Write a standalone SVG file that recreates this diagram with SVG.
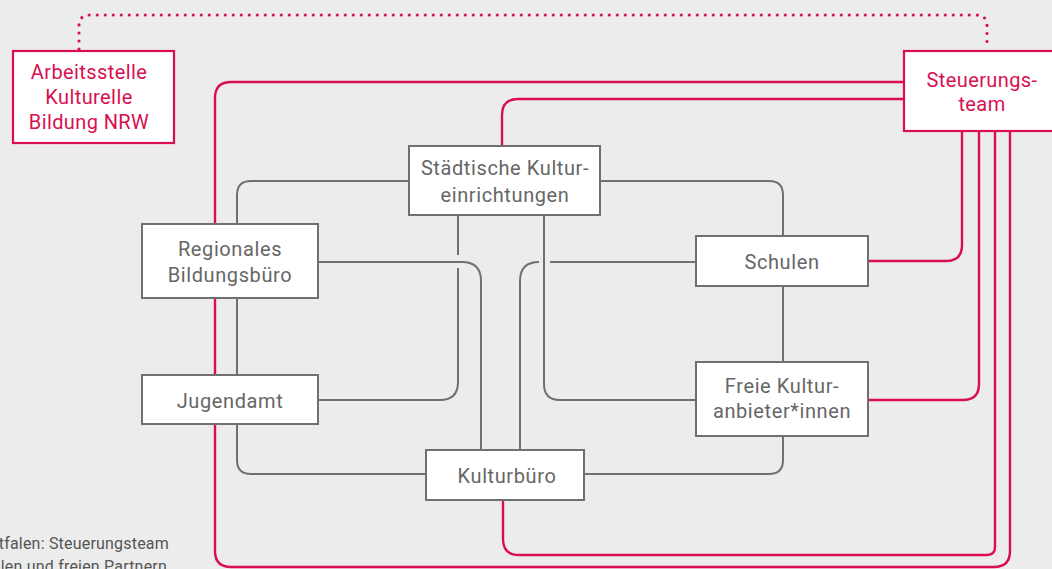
<svg xmlns="http://www.w3.org/2000/svg" width="1052" height="569" viewBox="0 0 1052 569">
<style>
.bg{fill:#ececec}
.g{fill:none;stroke:#707070;stroke-width:2}
.r{fill:none;stroke:#d90f50;stroke-width:2.4}
.dot{fill:none;stroke:#d90f50;stroke-width:3.2;stroke-linecap:round;stroke-dasharray:0 8}
.nb{fill:#fff;stroke:#707070;stroke-width:2}
.nr{fill:#fff;stroke:#d90f50;stroke-width:2.2}
.t{font-family:Roboto,"Noto Sans",sans-serif;font-size:20px;letter-spacing:0.6px;fill:#666;text-anchor:middle}
.tr{font-family:Roboto,"Noto Sans",sans-serif;font-size:20px;letter-spacing:0.4px;fill:#d90f50;text-anchor:middle}
.cap{font-family:Roboto,"Noto Sans",sans-serif;font-size:16px;letter-spacing:0.2px;fill:#555;text-anchor:end}
</style>
<rect class="bg" width="1052" height="569"/>
<g id="connectors">
<path class="dot" d="M79,49 V26 Q79,15 90,15 H976 Q987,15 987,26 V48"/>
<path class="r" d="M903,82 H231 Q215,82 215,98 V551 Q215,567 231,567 H994 Q1010,567 1010,551 V131"/>
<path class="r" d="M903,99 H518 Q502,99 502,115 V146"/>
<path class="r" d="M503,500 V539 Q503,555 519,555 H987 Q995,555 995,547 V131"/>
<path class="r" d="M868,261 H946 Q962,261 962,245 V131"/>
<path class="r" d="M868,400 H963 Q979,400 979,384 V131"/>
<path class="g" d="M409,181 H251 Q237,181 237,195 V224"/>
<path class="g" d="M600,181 H769 Q783,181 783,195 V236"/>
<path class="g" d="M237,298 V375"/>
<path class="g" d="M237,424 V460 Q237,474 251,474 H426"/>
<path class="g" d="M318,262 H462 Q481,262 481,281 V450"/>
<path class="g" d="M458,215 V255 M458,268 V382 Q458,400 440,400 H318"/>
<path class="g" d="M544,215 V384 Q544,400 560,400 H696"/>
<path class="g" d="M696,262 H550 M539,262 Q520,262 520,281 V450"/>
<path class="g" d="M783,286 V362"/>
<path class="g" d="M783,436 V460 Q783,474 769,474 H584"/>
</g>
<g id="arbeitsstelle">
<rect class="nr" x="13" y="51" width="161" height="92"/>
<text class="tr" x="89" y="79">Arbeitsstelle</text>
<text class="tr" x="89" y="104">Kulturelle</text>
<text class="tr" x="89" y="129">Bildung NRW</text>
</g>
<g id="steuerungsteam">
<rect class="nr" x="904" y="51" width="160" height="80"/>
<text class="tr" x="982" y="87">Steuerungs-</text>
<text class="tr" x="982" y="111">team</text>
</g>
<g id="staedtische">
<rect class="nb" x="409" y="146" width="191" height="69"/>
<text class="t" x="505" y="175">Städtische Kultur-</text>
<text class="t" x="505" y="202">einrichtungen</text>
</g>
<g id="regionales">
<rect class="nb" x="142" y="224" width="176" height="74"/>
<text class="t" x="230" y="256">Regionales</text>
<text class="t" x="230" y="282">Bildungsbüro</text>
</g>
<g id="jugendamt">
<rect class="nb" x="142" y="375" width="176" height="49"/>
<text class="t" x="230" y="408">Jugendamt</text>
</g>
<g id="kulturbuero">
<rect class="nb" x="426" y="450" width="158" height="50"/>
<text class="t" x="507" y="483">Kulturbüro</text>
</g>
<g id="schulen">
<rect class="nb" x="696" y="236" width="172" height="50"/>
<text class="t" x="782" y="269">Schulen</text>
</g>
<g id="freie">
<rect class="nb" x="696" y="362" width="172" height="74"/>
<text class="t" x="782" y="393">Freie Kultur-</text>
<text class="t" x="782" y="418">anbieter*innen</text>
</g>
<g id="caption">
<text class="cap" x="169" y="549">tfalen: Steuerungsteam</text>
<text class="cap" x="167" y="572">len und freien Partnern</text>
</g>
</svg>
